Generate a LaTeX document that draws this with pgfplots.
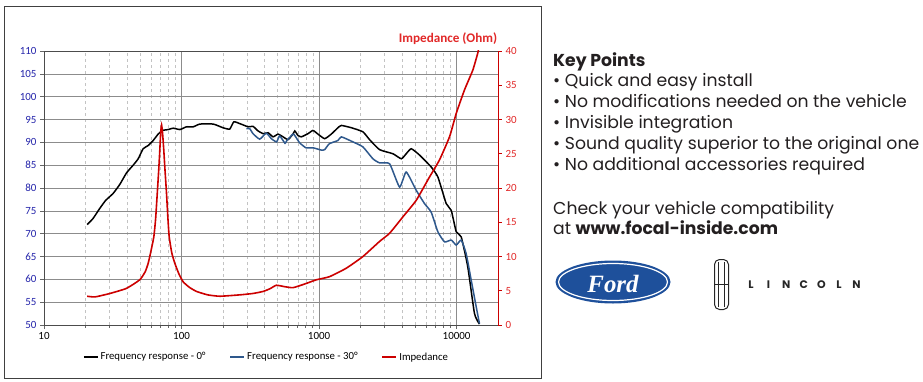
\documentclass[border=0pt]{standalone}
\usepackage{pgfplots}
\pgfplotsset{compat=1.18}
\usepackage{fontspec}
\setmainfont{Carlito}
\newfontfamily\keyfont{Poppins}
\newfontfamily\fordfont{Liberation Serif}
\definecolor{tickblue}{RGB}{36,36,170}
\definecolor{imred}{RGB}{204,0,0}
\definecolor{tickred}{RGB}{225,40,40}
\definecolor{resblue}{RGB}{46,88,140}
\definecolor{fordblue}{RGB}{30,80,155}
\definecolor{gridmaj}{RGB}{140,140,140}
\definecolor{gridmin}{RGB}{195,195,195}
\definecolor{txt}{RGB}{35,31,32}

\pgfplotstableread{
f v
20.6 72.0
22.7 73.3
25.4 75.5
28.1 77.3
31.8 78.8
35.6 80.8
39.8 83.3
44.5 85.0
48.4 86.4
52.6 88.6
57.2 89.3
62.2 90.4
67.6 91.8
72.7 92.6
80 92.8
86.9 93.1
97.3 92.8
108.7 93.4
121.6 93.4
136 94.0
170 94.0
200 93.2
224 92.9
240 94.5
265 94.1
305 93.4
331 93.5
360 92.5
392 91.9
426 92.1
463 91.2
503 91.8
547 91.2
595 90.6
646 91.8
666 92.5
703 91.5
743 91.2
831 91.9
903 92.6
982 91.8
1098 90.8
1226 91.8
1372 93.2
1452 93.7
1716 93.2
2083 92.3
2327 90.6
2753 88.4
3444 87.5
3962 86.4
4300 87.5
4680 88.6
5380 87.2
6535 84.6
7310 82.4
8400 76.6
9140 75.1
9940 70.4
10800 69.3
12060 62.7
13490 52.5
14660 50.2
}\zerodeg

\pgfplotstableread{
f v
296 93.0
313 93.0
331 91.9
370 90.7
413 92.0
450 90.8
491 90.1
517 91.4
565 89.8
583 90.4
646 91.8
666 91.5
722 89.9
804 88.8
903 88.8
1040 88.3
1098 88.4
1188 89.7
1372 90.4
1452 91.2
1762 90.1
2083 89.0
2462 86.4
2753 85.5
3258 85.3
3850 80.2
4300 83.5
5083 79.5
5840 76.6
6535 74.7
7310 70.4
8170 68.2
9140 68.6
9940 67.5
10800 68.6
11740 65.6
12770 59.8
13900 53.9
14660 50.3
}\thirtydeg

\pgfplotstableread{
f z
20.6 4.2
23.5 4.1
30.1 4.6
39.8 5.35
49.7 6.6
54.5 7.8
57.2 9.0
59.8 10.7
62.9 12.9
64.8 15.5
66.6 19.2
68.2 22.5
69.5 25.5
70.6 28.2
71.6 29.2
72.8 28.0
74.3 25.5
76.0 22.3
77.8 19.2
79.5 15.8
81.3 12.9
85.0 10.5
89.4 9.0
95.5 7.5
102.8 6.3
114 5.5
128.5 4.9
155 4.4
190 4.2
265 4.4
330 4.6
392 4.9
440 5.3
489 5.8
560 5.6
646 5.45
790 6.0
955 6.6
1188 7.05
1580 8.3
2083 10.0
2753 12.2
3258 13.4
4074 15.8
5083 18.2
6350 21.6
7510 24.1
8890 27.5
9940 30.9
11400 34.3
13110 37.2
14250 39.7
14700 41
}\imped

\begin{document}
\begin{tikzpicture}[x=1bp,y=1bp]
\path (0,0) rectangle (923,381);
\draw[black!75, line width=0.9bp] (4,3) rectangle (541,375);

\begin{axis}[
  at={(44bp,56bp)}, anchor=south west, scale only axis,
  width=454bp, height=274bp,
  xmode=log, xmin=10, xmax=20000, ymin=50, ymax=110,
  xtick={10,100,1000,10000}, xticklabels={10,100,1000,10000},
  minor xtick={20,30,40,50,60,70,80,90,200,300,400,500,600,700,800,900,2000,3000,4000,5000,6000,7000,8000,9000},
  ytick={50,55,...,110},
  xtick pos=bottom, ytick pos=left, tick align=outside,
  major tick length=4bp, minor tick length=2.5bp,
  tick style={black!60, line width=0.6bp},
  xmajorgrids, xminorgrids, ymajorgrids,
  major grid style={gridmaj, line width=0.6bp},
  minor grid style={gridmin, dashed, line width=0.5bp},
  axis line style={black!70, line width=0.7bp},
  /pgf/number format/assume math mode=true,
  yticklabel style={text=tickblue, font=\fontsize{11}{11}\selectfont},
  xticklabel style={text=black, font=\fontsize{11}{11}\selectfont},
  legend style={at={(0.49,-0.117)}, anchor=center, draw=none, fill=none,
    font=\fontsize{10.8}{11}\selectfont, inner sep=0pt,
    /tikz/every even column/.append style={column sep=22bp}},
  legend columns=3,
  legend cell align=left,
  legend image code/.code={\draw[#1, line width=1.6bp] (0bp,0bp) -- (14bp,0bp);},
]
\addplot[black, line width=1.5bp, no marks, smooth, tension=0.3] table[x=f, y=v] {\zerodeg};
\addlegendentry{Frequency response - 0°}
\addplot[resblue, line width=1.5bp, no marks, smooth, tension=0.3] table[x=f, y=v] {\thirtydeg};
\addlegendentry{Frequency response - 30°}
\addlegendimage{imred}
\addlegendentry{Impedance}
\end{axis}

\begin{axis}[
  at={(44bp,56bp)}, anchor=south west, scale only axis,
  width=454bp, height=274bp,
  xmode=log, xmin=10, xmax=20000, ymin=0, ymax=40,
  axis y line*=right, axis x line=none,
  ytick={0,5,...,40}, tick align=outside,
  major tick length=4bp,
  ytick style={imred, line width=0.6bp},
  y axis line style={imred, line width=1bp},
  /pgf/number format/assume math mode=true,
  yticklabel style={text=tickred, font=\fontsize{11}{11}\selectfont},
]
\addplot[imred, line width=1.6bp, no marks, smooth, tension=0.3] table[x=f, y=z] {\imped};
\end{axis}

\node[text=tickred, font=\bfseries\fontsize{13.2}{13}\selectfont] at (448,342) {Impedance (Ohm)};

% text block
\begin{scope}[every node/.style={anchor=base west, inner sep=0pt, text=txt, font=\keyfont\fontsize{17.3}{17}\selectfont}]
\node[font=\keyfont\bfseries\fontsize{17.3}{17}\selectfont] at (553,315) {Key Points};
\node at (553,295) {• Quick and easy install};
\node at (553,274) {• No modifications needed on the vehicle};
\node at (553,253) {• Invisible integration};
\node at (553,232) {• Sound quality superior to the original one};
\node at (553,211) {• No additional accessories required};
\node at (553,167) {Check your vehicle compatibility};
\node at (553,147) {at \textbf{www.focal-inside.com}};
\end{scope}

% Ford logo
\fill[fordblue] (613,99) ellipse [x radius=57.5, y radius=21.5];
\draw[white, line width=1.2bp] (613,99) ellipse [x radius=54.5, y radius=18.5];
\node[text=white, font=\fordfont\itshape\bfseries\fontsize{25}{25}\selectfont] at (613,97) {Ford};

% Lincoln logo
\draw[black!85, line width=1bp, rounded corners=5bp] (714.5,71.5) rectangle (728.5,121.5);
\draw[black!85, line width=0.6bp] (718.5,74) -- (718.5,119);
\draw[black!85, line width=0.6bp] (724.5,74) -- (724.5,119);
\draw[black!85, line width=0.8bp] (714.5,96.5) -- (728.5,96.5);
\foreach \l [count=\i from 0] in {L,I,N,C,O,L,N}
  \node[text=black!85, font=\keyfont\bfseries\fontsize{11}{11}\selectfont] at (751+\i*17.6,96) {\l};
\end{tikzpicture}
\end{document}
